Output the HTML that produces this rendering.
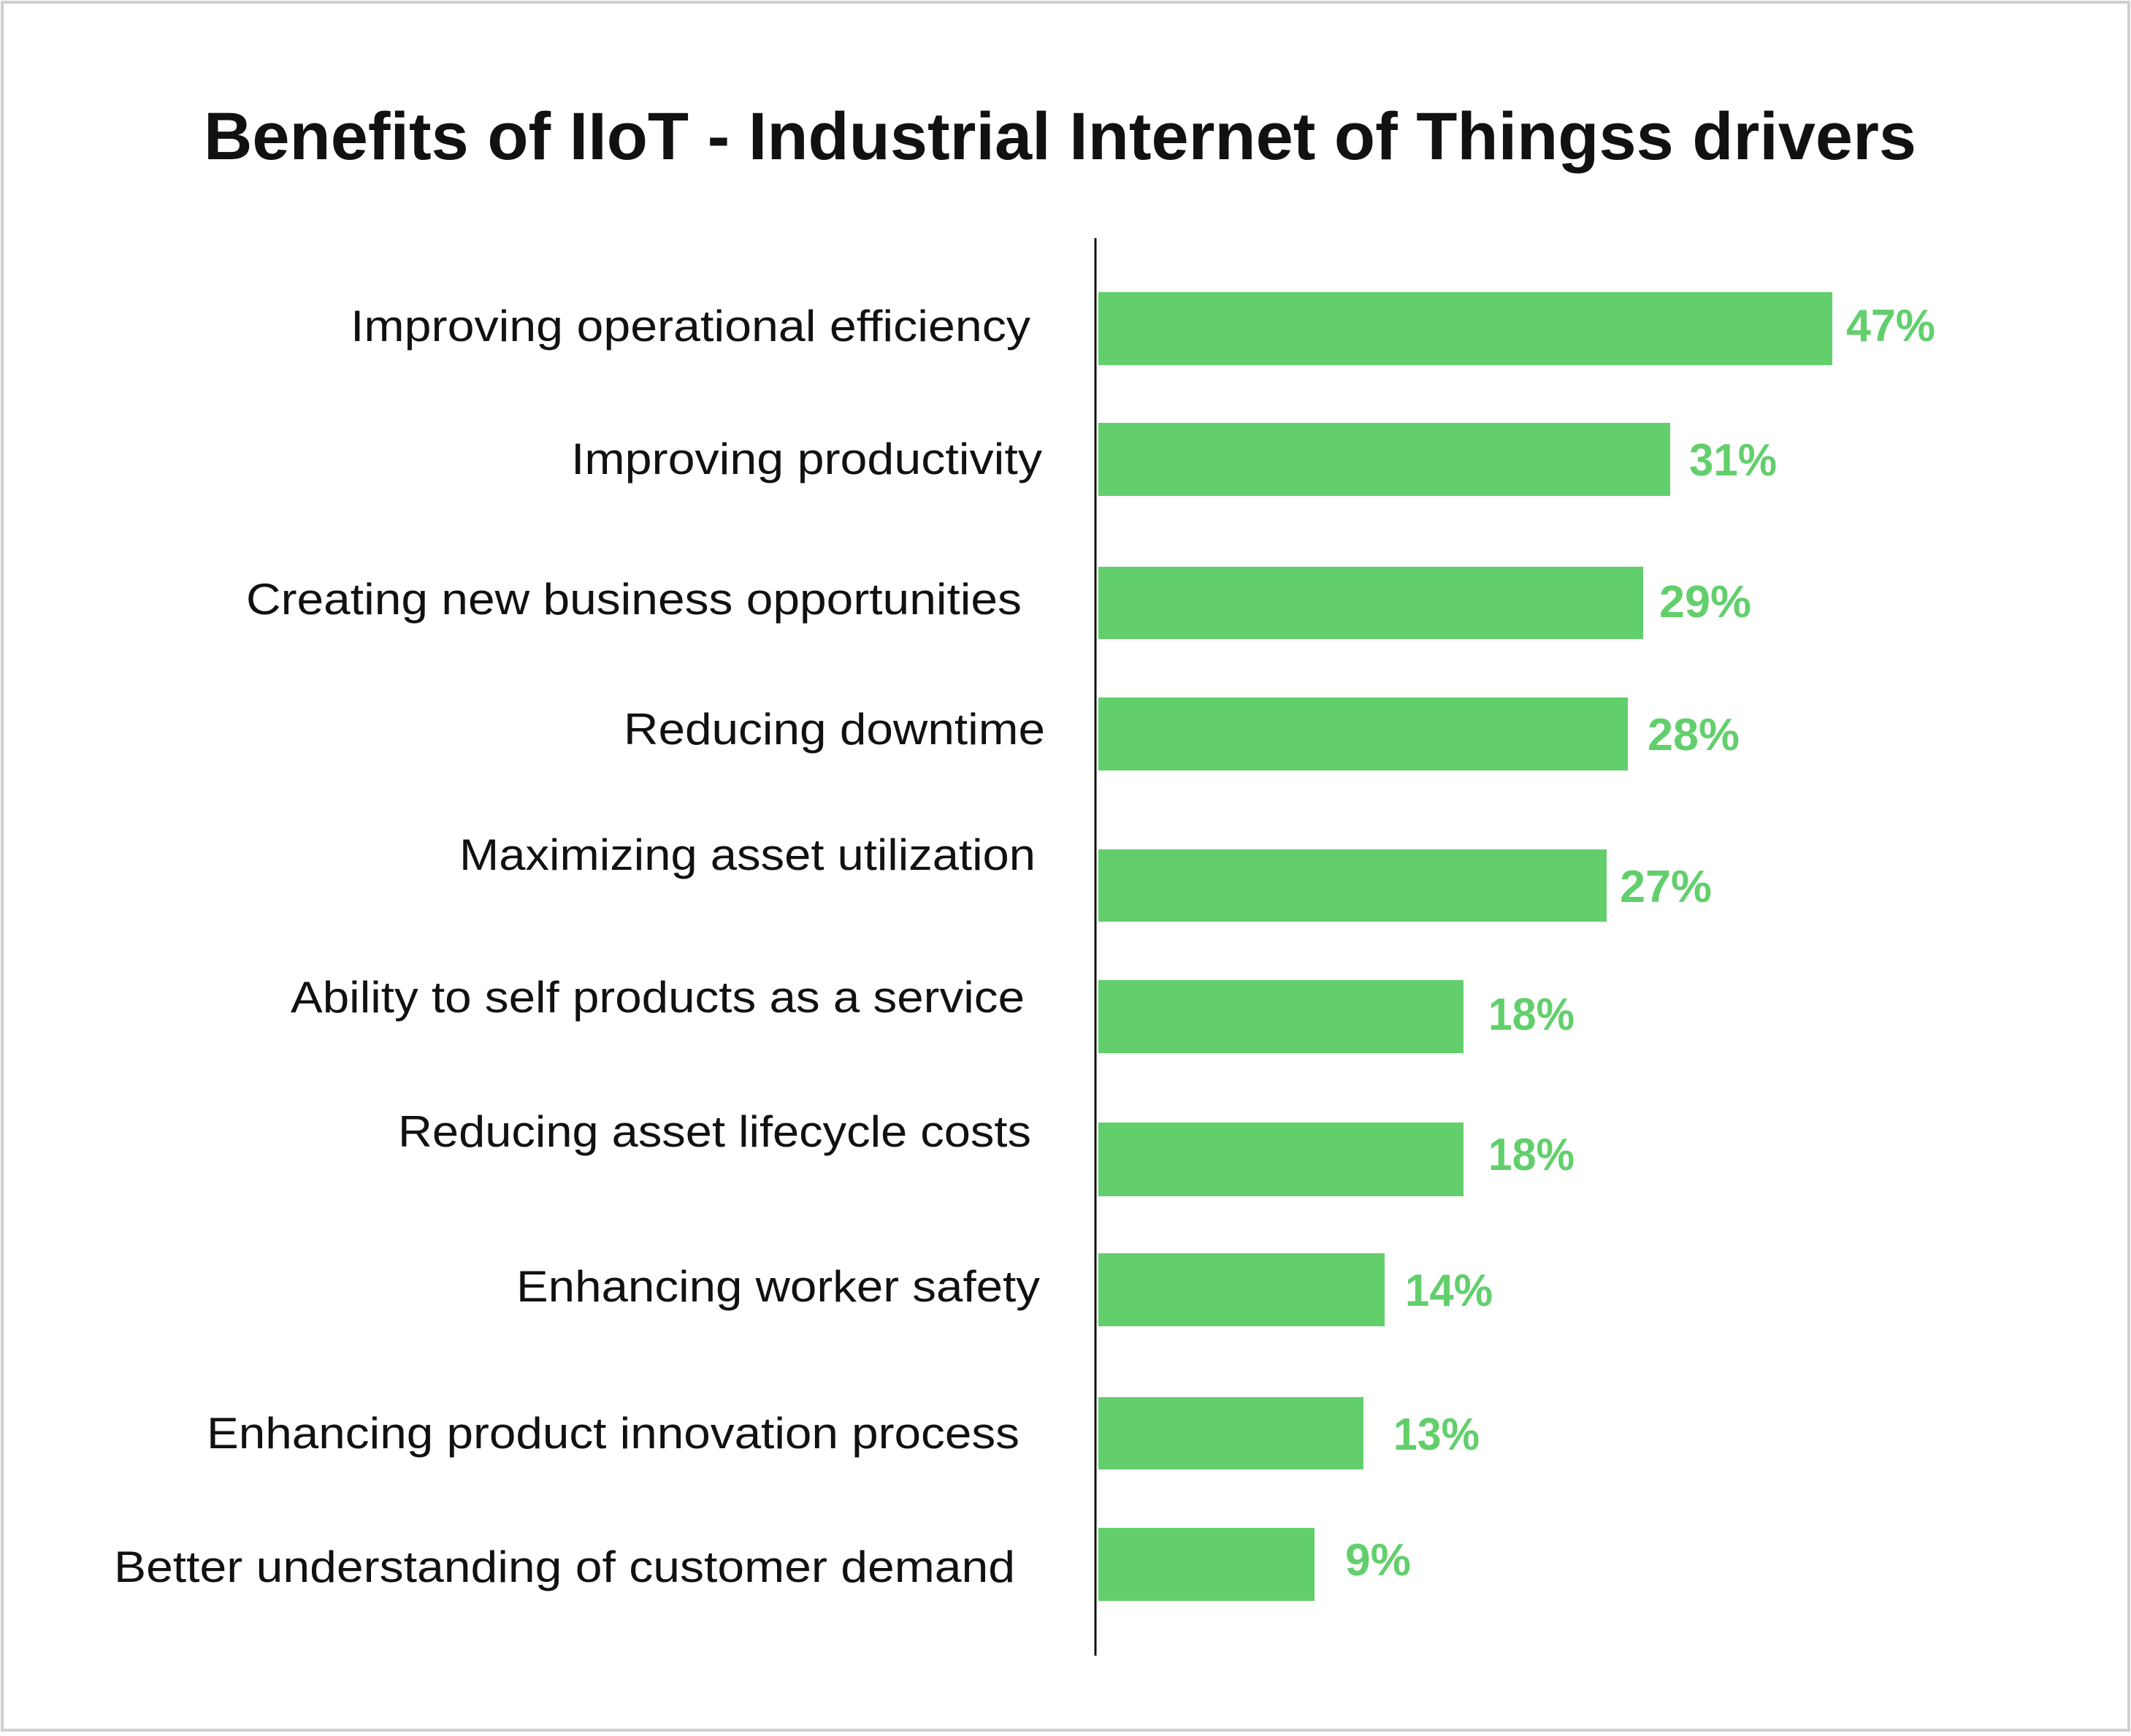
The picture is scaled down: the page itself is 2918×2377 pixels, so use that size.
<!DOCTYPE html>
<html><head><style>html,body{margin:0;padding:0;background:#fff}</style></head>
<body>
<svg width="2918" height="2372" xmlns="http://www.w3.org/2000/svg" font-family="Liberation Sans, sans-serif">
<rect x="0" y="0" width="2918" height="2372" fill="#fff"/>
<rect x="3" y="3" width="2912" height="2366" fill="none" stroke="#cfcfcf" stroke-width="4"/>
<text x="279" y="218" font-size="92" font-weight="bold" fill="#111" textLength="2345" lengthAdjust="spacingAndGlyphs">Benefits of IIoT - Industrial Internet of Thingss drivers</text>
<line x1="1500" y1="326" x2="1500" y2="2267" stroke="#111" stroke-width="3"/>
<g fill="#62cf6c">
<rect x="1504" y="400" width="1005" height="100"/>
<rect x="1504" y="579" width="783" height="100"/>
<rect x="1504" y="776" width="746" height="99"/>
<rect x="1504" y="955" width="725" height="100"/>
<rect x="1504" y="1163" width="696" height="99"/>
<rect x="1504" y="1342" width="500" height="100"/>
<rect x="1504" y="1537" width="500" height="101"/>
<rect x="1504" y="1716" width="392" height="100"/>
<rect x="1504" y="1913" width="363" height="99"/>
<rect x="1504" y="2092" width="296" height="100"/>
</g>
<g fill="#62cf6c" font-size="62" font-weight="bold">
<text x="2528" y="467" textLength="122" lengthAdjust="spacingAndGlyphs">47%</text>
<text x="2313" y="651" textLength="120" lengthAdjust="spacingAndGlyphs">31%</text>
<text x="2272" y="845" textLength="126" lengthAdjust="spacingAndGlyphs">29%</text>
<text x="2256" y="1027" textLength="126" lengthAdjust="spacingAndGlyphs">28%</text>
<text x="2218" y="1235" textLength="126" lengthAdjust="spacingAndGlyphs">27%</text>
<text x="2038" y="1410" textLength="118" lengthAdjust="spacingAndGlyphs">18%</text>
<text x="2038" y="1602" textLength="118" lengthAdjust="spacingAndGlyphs">18%</text>
<text x="1924" y="1788" textLength="120" lengthAdjust="spacingAndGlyphs">14%</text>
<text x="1908" y="1985" textLength="118" lengthAdjust="spacingAndGlyphs">13%</text>
<text x="1842" y="2157" textLength="90" lengthAdjust="spacingAndGlyphs">9%</text>
</g>
<g fill="#111" font-size="60">
<text x="480" y="467" textLength="931" lengthAdjust="spacingAndGlyphs">Improving operational efficiency</text>
<text x="782" y="649" textLength="645" lengthAdjust="spacingAndGlyphs">Improving productivity</text>
<text x="337" y="841" textLength="1062" lengthAdjust="spacingAndGlyphs">Creating new business opportunities</text>
<text x="854" y="1019" textLength="577" lengthAdjust="spacingAndGlyphs">Reducing downtime</text>
<text x="629" y="1191" textLength="789" lengthAdjust="spacingAndGlyphs">Maximizing asset utilization</text>
<text x="398" y="1386" textLength="1005" lengthAdjust="spacingAndGlyphs">Ability to self products as a service</text>
<text x="545" y="1570" textLength="867" lengthAdjust="spacingAndGlyphs">Reducing asset lifecycle costs</text>
<text x="707" y="1782" textLength="717" lengthAdjust="spacingAndGlyphs">Enhancing worker safety</text>
<text x="283" y="1983" textLength="1113" lengthAdjust="spacingAndGlyphs">Enhancing product innovation process</text>
<text x="156" y="2166" textLength="1234" lengthAdjust="spacingAndGlyphs">Better understanding of customer demand</text>
</g>
</svg>
</body></html>
